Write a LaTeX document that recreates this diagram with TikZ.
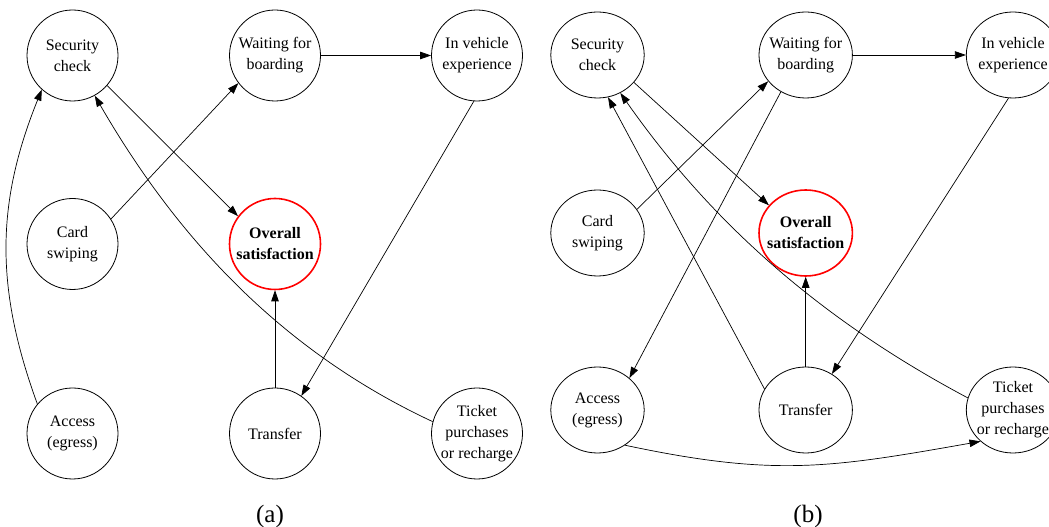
\documentclass[tikz,border=0pt]{standalone}
\usepackage{fontspec}
\setmainfont{Liberation Serif}
\usetikzlibrary{arrows.meta,shapes.geometric}
\begin{document}
\begin{tikzpicture}[
  x=1pt,y=1pt,
  rnode/.style={circle,draw,line width=0.8pt,minimum size=91pt,inner sep=0pt},
  enode/.style={ellipse,draw,line width=0.8pt,minimum width=93.4pt,minimum height=86pt,inner sep=0pt},
  keynode/.style={draw=red,line width=1.6pt},
  txt/.style={align=center,inner sep=0pt,font=\fontsize{16}{21}\selectfont},
  btxt/.style={align=center,inner sep=0pt,font=\fontsize{16}{21}\selectfont\bfseries},
  link/.style={line width=0.7pt,-{Triangle[length=11pt,width=7.5pt]}},
  sublabel/.style={inner sep=0pt,font=\fontsize{25}{30}\selectfont},
]
\useasboundingbox (0,0) rectangle (1049,527);

% ---------------- (a) ----------------
\node[rnode] (asec) at (72.5,471.5) {};
\node[rnode] (await) at (275,471.5) {};
\node[rnode] (aveh) at (477,471.5) {};
\node[rnode] (acard) at (72.5,283) {};
\node[rnode,keynode] (aovr) at (275,283) {};
\node[rnode] (aacc) at (72.5,93.5) {};
\node[rnode] (atra) at (275,93.5) {};
\node[rnode] (atic) at (477,93.5) {};

\node[txt] (asec-t) at (asec) {Security\\check};
\node[txt] (await-t) at (await) {Waiting for\\boarding};
\node[txt] (aveh-t) at (aveh) {In vehicle\\experience};
\node[txt] (acard-t) at (acard) {Card\\swiping};
\node[btxt] (aovr-t) at (aovr) {Overall\\satisfaction};
\node[txt] (aacc-t) at (aacc) {Access\\(egress)};
\node[txt] (atra-t) at (atra) {Transfer};
\node[txt] (atic-t) at (atic) {Ticket\\purchases\\or recharge};

\draw[link] (await) -- (aveh);
\draw[link] (asec.-41.5) -- (aovr.143);
\draw[link] (acard.33) -- (await.-143);
\draw[link] (aveh.-94.6) -- (atra.55.3);
\draw[link] (atra) -- (aovr);
\draw[link] (aacc.140) to[out=110,in=248] (asec.228);
\draw[link] (atic.165) to[out=155,in=-60,looseness=0.9] (asec.-61.5);

\node[sublabel] (alab) at (270,10.5) {(a)};

% ---------------- (b) ----------------
\node[enode] (bsec) at (597.5,472) {};
\node[enode] (bwait) at (805.7,472) {};
\node[enode] (bveh) at (1013,472) {};
\node[enode] (bcard) at (597.5,294) {};
\node[enode,keynode] (bovr) at (805.7,294) {};
\node[enode] (bacc) at (597.5,117) {};
\node[enode] (btra) at (805.7,117) {};
\node[enode] (btic) at (1013,117) {};

\node[txt] (bsec-t) at (bsec) {Security\\check};
\node[txt] (bwait-t) at (bwait) {Waiting for\\boarding};
\node[txt] (bveh-t) at (bveh) {In vehicle\\experience};
\node[txt] (bcard-t) at (bcard) {Card\\swiping};
\node[btxt] (bovr-t) at (bovr) {Overall\\satisfaction};
\node[txt] (bacc-t) at (bacc) {Access\\(egress)};
\node[txt] (btra-t) at (btra) {Transfer};
\node[txt] (btic-t) at (btic) {Ticket\\purchases\\or recharge};

\draw[link] (bwait) -- (bveh);
\draw[link] (bsec.-37.6) -- (bovr.143.9);
\draw[link] (bcard.31.2) -- (bwait.-145.2);
\draw[link] (bveh.-96) -- (btra.54);
\draw[link] (btra) -- (bovr);
\draw[link] (bwait.-124.4) -- (bacc.45.4);
\draw[link] (btra.153) -- (bsec.-76.6);
\draw[link] (btic.165) to[out=152,in=-55,looseness=0.9] (bsec.-59);
\draw[link] (bacc.-52.6) to[out=-12,in=190,looseness=1.1] (btic.224);

\node[sublabel] (blab) at (808,11) {(b)};
\end{tikzpicture}
\end{document}
